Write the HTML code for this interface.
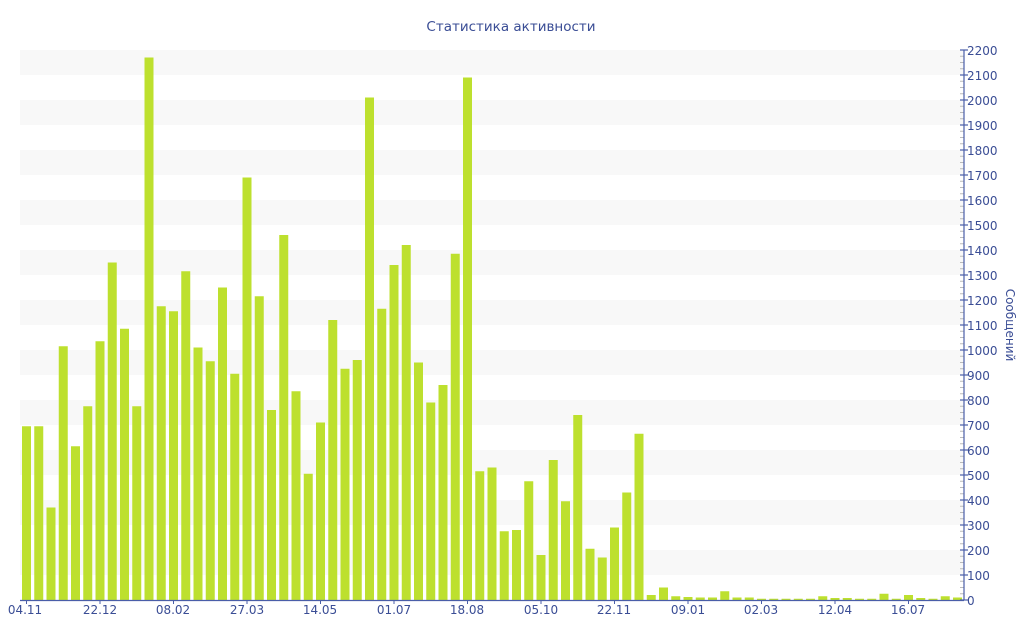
<!DOCTYPE html>
<html><head><meta charset="utf-8"><style>
body{margin:0;background:#fff;}
svg{display:block;font-family:"DejaVu Sans","Liberation Sans",sans-serif;}
</style></head><body>
<svg id="c" width="1024" height="640" viewBox="0 0 1024 640" xmlns="http://www.w3.org/2000/svg">
<rect width="1024" height="640" fill="#fff"/>
<g id="bands" fill="#f8f8f8"></g>
<g id="bars" fill="#bde02e"></g>
<g id="ticks"></g>
<line x1="964" y1="50" x2="964" y2="600" stroke="#4a5ea8" stroke-width="1.2"/>
<line x1="20" y1="600.5" x2="964" y2="600.5" stroke="#4a5ea8" stroke-width="1.2"/>
<text x="511" y="31" text-anchor="middle" font-size="13.5" fill="#3a4d95">Статистика активности</text>
<g font-size="12" fill="#3a4d95">
<text x="967" y="55">2200</text><text x="967" y="80">2100</text><text x="967" y="105">2000</text><text x="967" y="130">1900</text><text x="967" y="155">1800</text><text x="967" y="180">1700</text><text x="967" y="205">1600</text><text x="967" y="230">1500</text><text x="967" y="255">1400</text><text x="967" y="280">1300</text><text x="967" y="305">1200</text><text x="967" y="330">1100</text><text x="967" y="355">1000</text><text x="967" y="380">900</text><text x="967" y="405">800</text><text x="967" y="430">700</text><text x="967" y="455">600</text><text x="967" y="480">500</text><text x="967" y="505">400</text><text x="967" y="530">300</text><text x="967" y="555">200</text><text x="967" y="580">100</text><text x="967" y="605">0</text>
</g>
<g font-size="12" fill="#3a4d95" text-anchor="middle">
<text x="25" y="614">04.11</text><text x="100" y="614">22.12</text><text x="173" y="614">08.02</text><text x="247" y="614">27.03</text><text x="320" y="614">14.05</text><text x="394" y="614">01.07</text><text x="467" y="614">18.08</text><text x="541" y="614">05.10</text><text x="614" y="614">22.11</text><text x="688" y="614">09.01</text><text x="761" y="614">02.03</text><text x="835" y="614">12.04</text><text x="908" y="614">16.07</text>
</g>
<text transform="translate(1006,325) rotate(90)" text-anchor="middle" font-size="12" fill="#3a4d95">Сообщений</text>
</svg>
<script>
var ns="http://www.w3.org/2000/svg";
function el(p,t,a){var e=document.createElementNS(ns,t);for(var k in a)e.setAttribute(k,a[k]);document.getElementById(p).appendChild(e);}
for(var v=2200;v>0;v-=200){el("bands","rect",{x:20,y:600-v*0.25,width:944,height:25});}
var d=[695,695,370,1015,615,775,1035,1350,1085,775,2170,1175,1155,1315,1010,955,1250,905,1690,1215,760,1460,835,505,710,1120,925,960,2010,1165,1340,1420,950,790,860,1385,2090,515,530,275,280,475,180,560,395,740,205,170,290,430,665,20,50,15,12,10,10,35,10,10,5,5,5,5,5,15,8,8,5,5,25,5,20,8,5,15,10];
d.forEach(function(v,i){el("bars","rect",{x:22+12.25*i,y:600-v*0.25,width:9,height:v*0.25});});
for(var v=0;v<=2200;v+=25){var y=600-v*0.25;
 if(v%100==0)el("ticks","line",{x1:960,x2:968,y1:y,y2:y,stroke:"#4a5ea8","stroke-width":1.2});
 else el("ticks","line",{x1:960,x2:964,y1:y,y2:y,stroke:"#bbb","stroke-width":1});}
for(var k=0;k<13;k++){var x=26.5+73.5*k;el("ticks","line",{x1:x,x2:x,y1:600,y2:604,stroke:"#4a5ea8","stroke-width":1});}
</script>
</body></html>
